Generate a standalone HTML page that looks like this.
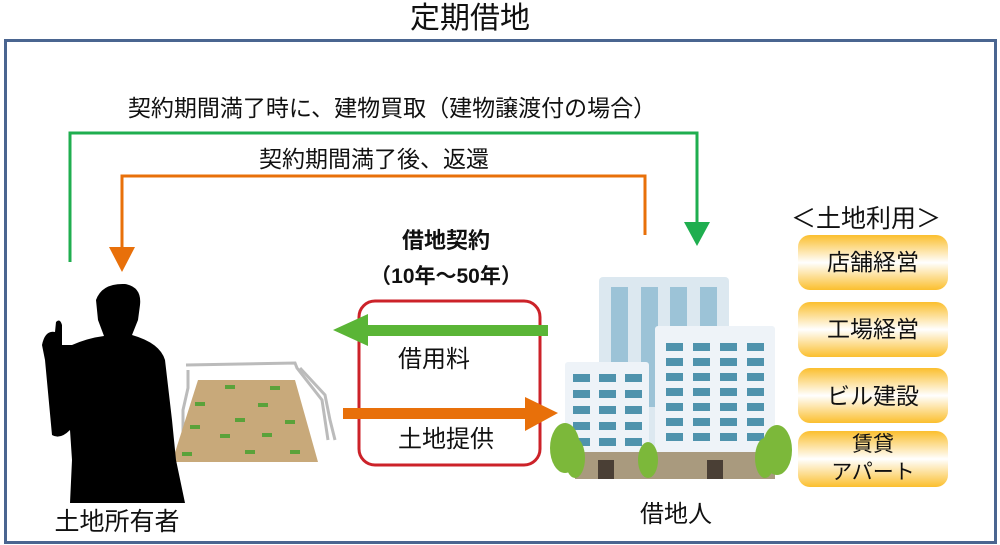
<!DOCTYPE html>
<html><head><meta charset="utf-8"><style>
body{margin:0;background:#fff;}
.wrap{position:relative;width:1000px;height:545px;overflow:hidden;font-family:"Liberation Sans","Noto Sans CJK JP",sans-serif;color:#111;}
.t{position:absolute;white-space:nowrap;transform:translateX(-50%);line-height:1;}
.box{position:absolute;left:798px;width:150px;border-radius:12px;background:linear-gradient(#fbbf2e 0%,#fff 50%,#fbbf2e 100%);font-size:23px;text-align:center;}
</style></head><body><div class="wrap">
<div class="t" style="left:470px;top:4px;font-size:30px;">定期借地</div>
<div style="position:absolute;left:4px;top:39px;width:987px;height:499px;border:3px solid #4a6590;"></div>
<svg width="1000" height="545" style="position:absolute;left:0;top:0">
<polyline points="70,262 70,133 697,133 697,225" fill="none" stroke="#1fae4f" stroke-width="3"/>
<polygon points="684,222 710,222 697,246" fill="#1fae4f"/>
<polyline points="645,235 645,176 122,176 122,250" fill="none" stroke="#e8700a" stroke-width="3"/>
<polygon points="109,247 135,247 122,272" fill="#e8700a"/>
<rect x="359" y="301" width="181" height="164" rx="16" fill="none" stroke="#cc2229" stroke-width="3"/>
<rect x="366" y="325" width="182" height="11" fill="#5ab536"/>
<polygon points="368,314 368,346 333,330" fill="#5ab536"/>
<rect x="343" y="408" width="185" height="11" fill="#e8700a"/>
<polygon points="525,397 525,431 558,413" fill="#e8700a"/>
<!-- field -->
<g stroke="#bbb" stroke-width="3" fill="none"><polyline points="188,370 188,388 183,410 183,455"/><polyline points="186,365 295,363 297,368 322,400 328,440"/><polyline points="300,368 325,395 330,420 335,440"/></g>
<polygon points="198,380 295,380 318,462 172,462" fill="#c8a97a"/>
<g fill="#5aa23a"><rect x="225" y="385" width="10" height="4"/><rect x="270" y="386" width="10" height="4"/><rect x="195" y="402" width="10" height="4"/><rect x="258" y="403" width="10" height="4"/><rect x="235" y="418" width="10" height="4"/><rect x="285" y="420" width="10" height="4"/><rect x="190" y="425" width="10" height="4"/><rect x="220" y="434" width="10" height="4"/><rect x="262" y="433" width="10" height="4"/><rect x="182" y="452" width="10" height="4"/><rect x="245" y="450" width="10" height="4"/><rect x="290" y="450" width="10" height="4"/></g>
<!-- person -->
<path d="M96,300 Q102,283 125,284 Q142,287 140,305 L138,320 L132,335 Q160,343 165,360 L172,420 L176,460 L185,503 L70,503 L72,460 L70,430 Q60,440 52,435 L45,360 L42,345 Q45,330 55,332 L56,322 Q60,318 62,325 L62,345 L72,345 Q88,338 104,336 L98,320 Z" fill="#000"/>
<!-- building -->
<rect x="599" y="277" width="130" height="200" rx="4" fill="#dce8f0"/>
<g fill="#9cc3d7"><rect x="611" y="287" width="17" height="120"/><rect x="641" y="287" width="17" height="120"/><rect x="670" y="287" width="17" height="120"/><rect x="700" y="287" width="17" height="120"/></g>
<rect x="655" y="326" width="120" height="140" rx="3" fill="#eef3f8"/>
<rect x="565" y="362" width="84" height="110" rx="3" fill="#eef3f8"/>
<g fill="#4f93ad">
<rect x="666" y="343" width="17" height="8"/><rect x="693" y="343" width="17" height="8"/><rect x="720" y="343" width="17" height="8"/><rect x="747" y="343" width="17" height="8"/>
<rect x="666" y="358" width="17" height="8"/><rect x="693" y="358" width="17" height="8"/><rect x="720" y="358" width="17" height="8"/><rect x="747" y="358" width="17" height="8"/>
<rect x="666" y="373" width="17" height="8"/><rect x="693" y="373" width="17" height="8"/><rect x="720" y="373" width="17" height="8"/><rect x="747" y="373" width="17" height="8"/>
<rect x="666" y="388" width="17" height="8"/><rect x="693" y="388" width="17" height="8"/><rect x="720" y="388" width="17" height="8"/><rect x="747" y="388" width="17" height="8"/>
<rect x="666" y="403" width="17" height="8"/><rect x="693" y="403" width="17" height="8"/><rect x="720" y="403" width="17" height="8"/><rect x="747" y="403" width="17" height="8"/>
<rect x="666" y="418" width="17" height="8"/><rect x="693" y="418" width="17" height="8"/><rect x="720" y="418" width="17" height="8"/><rect x="747" y="418" width="17" height="8"/>
<rect x="666" y="433" width="17" height="8"/><rect x="693" y="433" width="17" height="8"/><rect x="720" y="433" width="17" height="8"/><rect x="747" y="433" width="17" height="8"/>
<rect x="573" y="374" width="17" height="8"/><rect x="599" y="374" width="17" height="8"/><rect x="625" y="374" width="17" height="8"/>
<rect x="573" y="390" width="17" height="8"/><rect x="599" y="390" width="17" height="8"/><rect x="625" y="390" width="17" height="8"/>
<rect x="573" y="406" width="17" height="8"/><rect x="599" y="406" width="17" height="8"/><rect x="625" y="406" width="17" height="8"/>
<rect x="573" y="422" width="17" height="8"/><rect x="599" y="422" width="17" height="8"/><rect x="625" y="422" width="17" height="8"/>
<rect x="573" y="438" width="17" height="8"/><rect x="599" y="438" width="17" height="8"/><rect x="625" y="438" width="17" height="8"/>
</g>
<rect x="575" y="452" width="200" height="27" fill="#a99a7e"/>
<rect x="598" y="460" width="16" height="19" fill="#4a3f35"/><rect x="707" y="460" width="16" height="19" fill="#4a3f35"/>
<g fill="#7cb83a"><ellipse cx="565" cy="448" rx="15" ry="25"/><ellipse cx="575" cy="458" rx="10" ry="20"/><ellipse cx="648" cy="460" rx="10" ry="18"/><ellipse cx="777" cy="450" rx="15" ry="25"/><ellipse cx="765" cy="458" rx="10" ry="20"/></g>
</svg>
<div class="t" style="left:392px;top:97px;font-size:23px;">契約期間満了時に、建物買取（建物譲渡付の場合）</div>
<div class="t" style="left:374px;top:148px;font-size:23px;">契約期間満了後、返還</div>
<div class="t" style="left:446px;top:230px;font-size:22px;font-weight:bold;">借地契約</div>
<div class="t" style="left:446px;top:266px;font-size:21px;font-weight:bold;">（10年～50年）</div>
<div class="t" style="left:434px;top:348px;font-size:24px;">借用料</div>
<div class="t" style="left:446px;top:428px;font-size:24px;">土地提供</div>
<div class="t" style="left:117px;top:510px;font-size:25px;">土地所有者</div>
<div class="t" style="left:676px;top:503px;font-size:24px;">借地人</div>
<div class="t" style="left:866px;top:207px;font-size:25px;">＜土地利用＞</div>
<div class="box" style="top:235px;height:55px;line-height:55px;">店舗経営</div>
<div class="box" style="top:302px;height:55px;line-height:55px;">工場経営</div>
<div class="box" style="top:368px;height:55px;line-height:57px;">ビル建設</div>
<div class="box" style="top:431px;height:56px;font-size:21px;line-height:28px;">賃貸<br>アパート</div>
</div></body></html>
